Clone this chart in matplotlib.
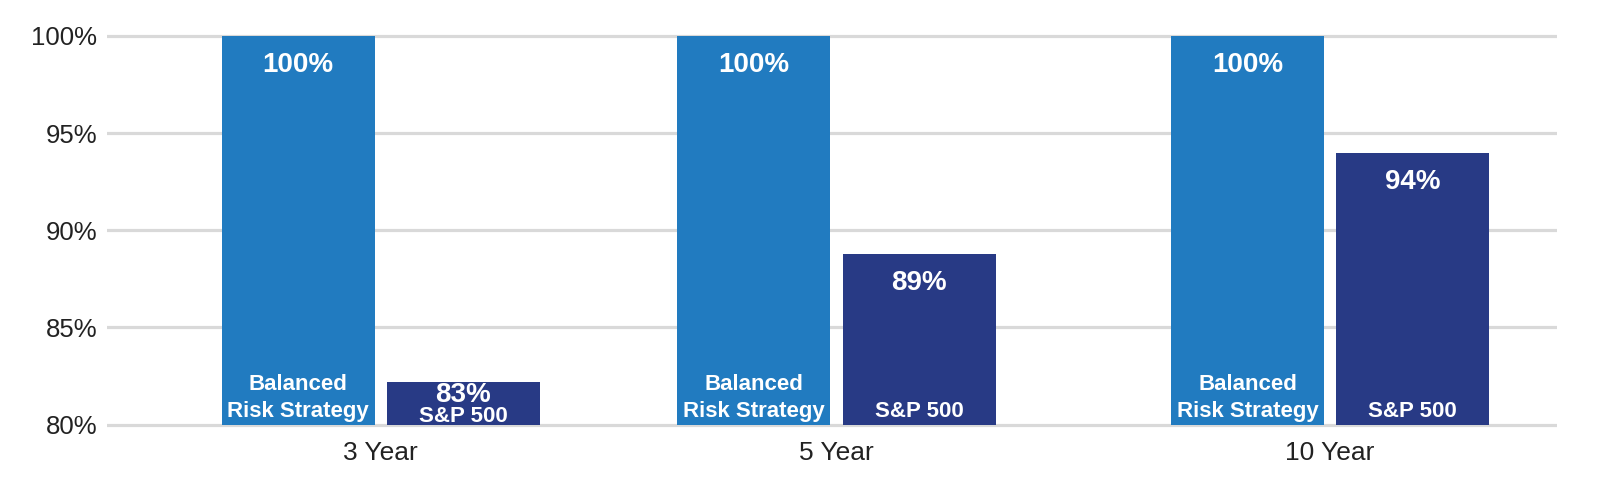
"""Balanced Risk Strategy vs S&P 500 grouped bar chart."""
import matplotlib
matplotlib.use("Agg")
import matplotlib.pyplot as plt
import numpy as np

plt.rcParams['font.family'] = ['Liberation Sans', 'DejaVu Sans']

# Data
periods = ['3 Year', '5 Year', '10 Year']
brs_values = [100.0, 100.0, 100.0]
sp_values = [82.2, 88.8, 94.0]
brs_labels = ['100%', '100%', '100%']
sp_labels = ['83%', '89%', '94%']
y_ticks = [80, 85, 90, 95, 100]

# Layout
group_pos = np.array([0.0, 0.96, 2.0])
bar_w = 0.3225
offset = 0.174
BLUE = '#217BC0'
NAVY = '#283A85'
GRID = '#D9D9D9'

fig = plt.figure(figsize=(16.02, 5.04), dpi=100)
ax = fig.add_axes([0.0668, 0.150, 0.9051, 0.7863])
ax.set_ylim(79.8, 100.2)
ax.set_xlim(-0.577, 2.478)

ax.set_yticks(y_ticks)
ax.set_yticklabels([f'{t}%' for t in y_ticks])
ax.yaxis.grid(True, color=GRID, linewidth=2.3, zorder=0)
ax.set_axisbelow(True)

base = 80
b1 = ax.bar(group_pos - offset, np.array(brs_values) - base, bottom=base,
            width=bar_w, color=BLUE, zorder=2)
b2 = ax.bar(group_pos + offset, np.array(sp_values) - base, bottom=base,
            width=bar_w, color=NAVY, zorder=2)

txt = dict(color='white', fontweight='bold', ha='center', va='center',
           textcoords='offset pixels', zorder=3)

for i, rect in enumerate(b1):
    cx = rect.get_x() + rect.get_width() / 2
    ax.annotate(brs_labels[i], (cx, brs_values[i]), xytext=(0, -29),
                fontsize=20, **txt)
    ax.annotate('Balanced', (cx, base), xytext=(0, 40), fontsize=16, **txt)
    ax.annotate('Risk Strategy', (cx, base), xytext=(0, 13), fontsize=16, **txt)

for i, rect in enumerate(b2):
    cx = rect.get_x() + rect.get_width() / 2
    if sp_values[i] - base < 4:
        # short bar: stack value and name tightly
        ax.annotate(sp_labels[i], (cx, base), xytext=(0, 30), fontsize=20, **txt)
        ax.annotate('S&P 500', (cx, base), xytext=(0, 8), fontsize=16, **txt)
    else:
        ax.annotate(sp_labels[i], (cx, sp_values[i]), xytext=(0, -29),
                    fontsize=20, **txt)
        ax.annotate('S&P 500', (cx, base), xytext=(0, 13), fontsize=16, **txt)

ax.set_xticks(group_pos)
ax.set_xticklabels(periods)
ax.tick_params(axis='both', length=0, colors='#222222')
ax.tick_params(axis='y', labelsize=18.5, pad=7)
ax.tick_params(axis='x', labelsize=19, pad=9)

for s in ax.spines.values():
    s.set_visible(False)

fig.savefig('out.png', dpi=100)
